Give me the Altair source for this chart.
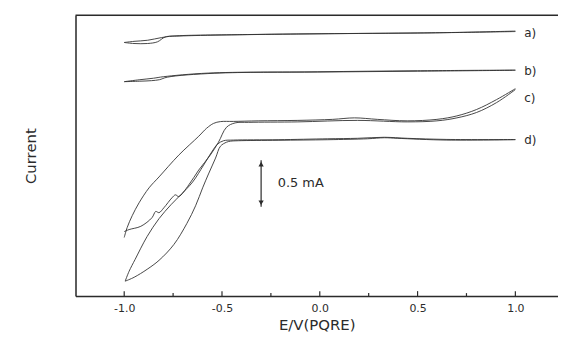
import altair as alt
import pandas as pd

# ---- data: E in V, current in mA ----
a1_E = [-1.0, -0.95, -0.88, -0.81, -0.75, -0.37, 0.14, 0.65, 1.0]
a1_I = [2.718, 2.730, 2.742, 2.770, 2.787, 2.803, 2.814, 2.824, 2.840]
a2_E = [-1.0, -0.95, -0.88, -0.83, -0.79, -0.72, -0.11, 0.50, 1.0]
a2_I = [2.718, 2.707, 2.707, 2.725, 2.777, 2.787, 2.809, 2.819, 2.835]

b1_E = [-1.0, -0.92, -0.85, -0.80, -0.57, -0.01, 0.50, 1.0]
b1_I = [2.298, 2.319, 2.335, 2.351, 2.390, 2.404, 2.415, 2.422]
b2_E = [-1.0, -0.92, -0.86, -0.82, -0.78, -0.54, -0.01, 0.50, 1.0]
b2_I = [2.298, 2.303, 2.309, 2.319, 2.346, 2.388, 2.401, 2.410, 2.420]

c1_E = [1.0, 0.904, 0.802, 0.701, 0.599, 0.447, 0.294, 0.178, 0.066, -0.112,
        -0.315, -0.442, -0.508, -0.543, -0.579, -0.619, -0.721, -0.822, -0.873,
        -0.924, -0.959, -0.985, -1.0]
c1_I = [2.223, 2.106, 2.000, 1.931, 1.894, 1.878, 1.894, 1.910, 1.894, 1.883,
        1.878, 1.872, 1.870, 1.851, 1.798, 1.713, 1.511, 1.277, 1.160,
        1.000, 0.862, 0.734, 0.628]
c2_E = [-1.0, -0.975, -0.915, -0.858, -0.839, -0.822, -0.797, -0.756, -0.738,
        -0.721, -0.670, -0.619, -0.560, -0.518, -0.477, -0.433, -0.365, -0.112,
        0.193, 0.447, 0.599, 0.701, 0.802, 0.904, 1.0]
c2_I = [0.691, 0.713, 0.748, 0.840, 0.907, 0.894, 0.947, 1.053, 1.085,
        1.067, 1.191, 1.351, 1.511, 1.649, 1.809, 1.856, 1.862, 1.867,
        1.883, 1.867, 1.878, 1.910, 1.968, 2.074, 2.213]

d1_E = [1.0, 0.650, 0.396, 0.330, 0.244, 0.041, -0.213, -0.416, -0.457, -0.477,
        -0.508, -0.533, -0.569, -0.599, -0.635, -0.680, -0.746, -0.822, -0.883,
        -0.949, -0.995]
d1_I = [1.676, 1.672, 1.691, 1.697, 1.686, 1.676, 1.670, 1.665, 1.660, 1.649,
        1.606, 1.479, 1.309, 1.160, 0.968, 0.777, 0.553, 0.383, 0.287,
        0.202, 0.160]
d2_E = [-0.995, -0.975, -0.944, -0.883, -0.822, -0.761, -0.706, -0.650, -0.594,
        -0.553, -0.523, -0.492, -0.442, -0.213, 0.041, 0.193, 0.330, 0.447, 0.650, 1.0]
d2_I = [0.160, 0.266, 0.394, 0.638, 0.830, 0.979, 1.096, 1.223, 1.404,
        1.543, 1.628, 1.665, 1.672, 1.676, 1.686, 1.691, 1.702, 1.691, 1.679, 1.678]

curve_names = ["a)", "b)", "c)", "d)"]
label_E = [1.045, 1.045, 1.045, 1.045]
label_I = [2.82, 2.415, 2.128, 1.670]

major_ticks = [-1.0, -0.5, 0.0, 0.5, 1.0]
minor_ticks = [-0.75, -0.25, 0.25, 0.75]

bar_E = [-0.30]
bar_lo = [0.957]
bar_hi = [1.457]
bar_text = ["0.5 mA"]
bar_text_E = [-0.215]
bar_text_I = [1.207]

# ---- tables ----
paths = {"a1": (a1_E, a1_I), "a2": (a2_E, a2_I), "b1": (b1_E, b1_I), "b2": (b2_E, b2_I),
         "c1": (c1_E, c1_I), "c2": (c2_E, c2_I), "d1": (d1_E, d1_I), "d2": (d2_E, d2_I)}
rows = []
for name, (es, iv) in paths.items():
    for k, (e, i) in enumerate(zip(es, iv)):
        rows.append({"path": name, "E": e, "I": i, "k": k})
df = pd.DataFrame(rows)
labels_df = pd.DataFrame({"name": curve_names, "E": label_E, "I": label_I})
major_df = pd.DataFrame({"E": major_ticks})
minor_df = pd.DataFrame({"E": minor_ticks})
bar_df = pd.DataFrame({"E": bar_E, "lo": bar_lo, "hi": bar_hi})
bar_t_df = pd.DataFrame({"t": bar_text, "E": bar_text_E, "I": bar_text_I})

W, H = 486, 283
FONT = "DejaVu Sans"
INK = "#2b2b2b"
xs = alt.Scale(domain=[-1.249, 1.218], nice=False, zero=False)
ys = alt.Scale(domain=[0, 3.011], nice=False, zero=False)

xaxis = alt.Axis(values=major_ticks, ticks=False, labelPadding=7, grid=False,
                 labelExpr="replace(format(datum.value, '.1f'), '\u2212', '-')",
                 labelFontSize=11, labelColor=INK, labelFont=FONT,
                 title="E/V(PQRE)", titleFontSize=15, titleFontWeight="normal",
                 titleFont=FONT, titleColor=INK, titleBaseline="alphabetic", titleY=34,
                 domainColor=INK, domainWidth=1.5)
yaxis = alt.Axis(labels=False, ticks=False, grid=False, title="Current",
                 titleFontSize=15, titleFontWeight="normal", titleFont=FONT,
                 titleColor=INK, titlePadding=37, domainColor=INK, domainWidth=1.5)

curves = alt.Chart(df).mark_line(color="#333333", strokeWidth=0.9,
                                 interpolate="catmull-rom").encode(
    x=alt.X("E:Q", scale=xs, axis=xaxis),
    y=alt.Y("I:Q", scale=ys, axis=yaxis),
    detail="path:N",
    order="k:Q",
)

top_line = alt.Chart(major_df.head(1)).mark_rule(color=INK, strokeWidth=1.5).encode(
    x=alt.value(0), x2=alt.value(W), y=alt.value(0))

maj = alt.Chart(major_df).mark_rule(color=INK, strokeWidth=1.2).encode(
    x=alt.X("E:Q", scale=xs), y=alt.value(H), y2=alt.value(H - 5))
mnr = alt.Chart(minor_df).mark_rule(color=INK, strokeWidth=1.2).encode(
    x=alt.X("E:Q", scale=xs), y=alt.value(H), y2=alt.value(H - 3))

labels = alt.Chart(labels_df).mark_text(align="left", baseline="middle", fontSize=12,
                                        font=FONT, color=INK).encode(
    x=alt.X("E:Q", scale=xs), y=alt.Y("I:Q", scale=ys), text="name:N")

bar = alt.Chart(bar_df).mark_rule(color=INK, strokeWidth=1.2).encode(
    x=alt.X("E:Q", scale=xs), y=alt.Y("lo:Q", scale=ys), y2="hi:Q")
head_up = alt.Chart(bar_df).mark_point(shape="triangle-up", filled=True, size=28,
                                       color=INK, opacity=1, yOffset=4).encode(
    x=alt.X("E:Q", scale=xs), y=alt.Y("hi:Q", scale=ys))
head_dn = alt.Chart(bar_df).mark_point(shape="triangle-down", filled=True, size=28,
                                       color=INK, opacity=1, yOffset=-4).encode(
    x=alt.X("E:Q", scale=xs), y=alt.Y("lo:Q", scale=ys))
bar_t = alt.Chart(bar_t_df).mark_text(align="left", baseline="middle", fontSize=13,
                                      font=FONT, color=INK).encode(
    x=alt.X("E:Q", scale=xs), y=alt.Y("I:Q", scale=ys), text="t:N")

chart = alt.layer(curves, top_line, maj, mnr, labels, bar, head_up, head_dn, bar_t).properties(
    width=W, height=H,
    autosize=alt.AutoSizeParams(type="none"),
    padding={"left": 68, "top": 6, "right": 0, "bottom": 38},
).configure_view(stroke=None).configure(background="white")

chart.save("out.html", embed_options={"renderer": "svg", "actions": False})
